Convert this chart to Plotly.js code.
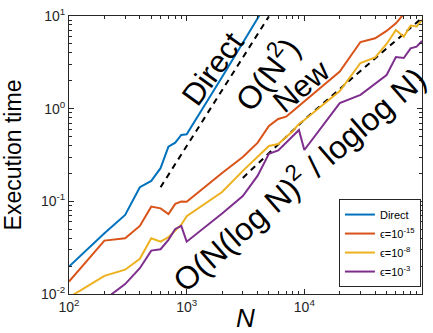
<!DOCTYPE html>
<html>
<head>
<meta charset="utf-8">
<script src="https://cdn.plot.ly/plotly-3.0.1.min.js"></script>
<style>html,body{margin:0;padding:0;background:#fff;}#chart{width:433px;height:333px;}</style>
</head>
<body>
<div id="chart"></div>
<script>
// Problem sizes N
const N_all = [100,200,300,400,500,600,700,800,900,1000,
  2000,3000,4000,5000,6000,7000,8000,9000,10000,
  20000,30000,40000,50000,60000,70000,80000,90000,100000];
const N_direct = [100,200,300,400,500,600,700,800,900,1000,2000,3000,4000,5000];

// Execution times
const t_direct = [0.0198,0.0453,0.0713,0.142,0.166,0.228,0.389,0.43,0.52,0.53,2.2,5.1,9.4,15];
const t_eps15 = [0.0136,0.0377,0.040,0.0543,0.0877,0.084,0.073,0.094,0.0993,0.099,
  0.202,0.301,0.427,0.65,0.774,0.82,0.944,1.07,1.22,
  2.51,5.24,5.75,6.9,8.34,10.5,12,13,14];
const t_eps8 = [0.0092,0.0157,0.0183,0.024,0.040,0.0367,0.041,0.049,0.056,0.069,
  0.126,0.213,0.30,0.396,0.416,0.495,0.574,0.684,0.755,
  1.55,3.11,3.57,4.99,7.06,5.98,7.9,7.7,9.06];
const t_eps3 = [0.005,0.0087,0.0128,0.019,0.0294,0.0304,0.0384,0.0504,0.0543,0.0367,
  0.0738,0.114,0.188,0.325,0.354,0.427,0.508,0.589,0.358,
  1.15,1.41,1.85,2.31,3.61,3.52,4.48,4.67,5.37];

// Reference (dashed) lines
const ref2_N = [600, 5000];
const ref2_t = [0.142, 9.9];
const refNew_N = [3000, 10000, 30000, 100000];
const refNew_t = [0.179, 0.76, 2.55, 9.5];

const seriesNames = ['Direct','\u03f5=10<sup>-15</sup>','\u03f5=10<sup>-8</sup>','\u03f5=10<sup>-3</sup>'];
const colors = ['#0072BD','#D95319','#EDB120','#7E2F8E'];

const xTickVals = [100,1000,10000,100000];
const xTickText = ['10<sup>2</sup>','10<sup>3</sup>','10<sup>4</sup>','10<sup>5</sup>'];
const yTickVals = [0.01,0.1,1,10];
const yTickText = ['10<sup>-2</sup>','10<sup>-1</sup>','10<sup>0</sup>','10<sup>1</sup>'];

const traces = [
  {x: ref2_N, y: ref2_t, mode:'lines', line:{color:'#000', width:2, dash:'6px,5px'}, showlegend:false, hoverinfo:'skip'},
  {x: refNew_N, y: refNew_t, mode:'lines', line:{color:'#000', width:2, dash:'6px,5px'}, showlegend:false, hoverinfo:'skip'},
  {x: N_direct, y: t_direct, name: seriesNames[0], mode:'lines', line:{color:colors[0], width:2}},
  {x: N_all, y: t_eps15, name: seriesNames[1], mode:'lines', line:{color:colors[1], width:2}},
  {x: N_all, y: t_eps8, name: seriesNames[2], mode:'lines', line:{color:colors[2], width:2}},
  {x: N_all, y: t_eps3, name: seriesNames[3], mode:'lines', line:{color:colors[3], width:2}}
];

const axCol = '#262626';
const fontFam = '"Liberation Sans", Arial, Helvetica, sans-serif';

function ann(px, py, text, angle, size) {
  return {xref:'paper', yref:'paper', x:(px-69)/353, y:(294-py)/278, text:text,
    showarrow:false, xanchor:'center', yanchor:'middle', textangle:angle,
    font:{size:size, color:'#000'}};
}

const layout = {
  width: 433, height: 333,
  margin: {l:69, r:11, t:16, b:39, pad:0},
  paper_bgcolor:'#fff', plot_bgcolor:'#fff',
  font: {family: fontFam, color: axCol, size: 14},
  showlegend: true,
  xaxis: {
    type:'log', range:[2,5], showgrid:false, zeroline:false,
    showline:true, linecolor:axCol, linewidth:1, mirror:'allticks',
    ticks:'inside', ticklen:5, tickcolor:axCol,
    tickvals: xTickVals, ticktext: xTickText,
    tickfont:{size:14, color:axCol},
    minor:{ticks:'inside', ticklen:3, tickcolor:axCol, dtick:'D1', showgrid:false},
    title:{text:'<i>N</i>', font:{size:26, color:'#000'}, standoff:9}
  },
  yaxis: {
    type:'log', range:[-2,1], showgrid:false, zeroline:false,
    showline:true, linecolor:axCol, linewidth:1, mirror:'allticks',
    ticks:'inside', ticklen:5, tickcolor:axCol,
    tickvals: yTickVals, ticktext: yTickText,
    tickfont:{size:14, color:axCol},
    minor:{ticks:'inside', ticklen:3, tickcolor:axCol, dtick:'D1', showgrid:false},
    title:{text:'Execution time', font:{size:23, color:'#000'}, standoff:14}
  },
  legend: {
    x:0.997, y:0.025, xanchor:'right', yanchor:'bottom',
    bgcolor:'#fff', bordercolor:axCol, borderwidth:1,
    font:{size:11, color:'#000'}, itemwidth:30, tracegroupgap:0
  },
  annotations: [
    ann(212, 69, 'Direct', -54, 31),
    ann(266, 73, 'O(N<sup>2</sup>)', -52, 32),
    ann(301, 86, 'New', -40, 31),
    ann(298, 178, 'O(N(log N)<sup>2</sup> / loglog N)', -41, 32)
  ]
};

Plotly.newPlot('chart', traces, layout, {staticPlot:true, displayModeBar:false});
</script>
</body>
</html>
